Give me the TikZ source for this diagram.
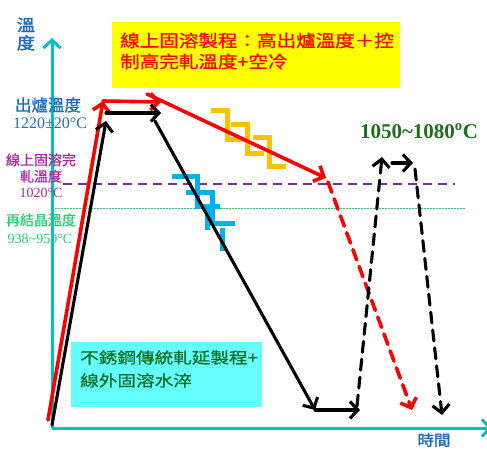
\documentclass[tikz,border=0pt]{standalone}
\usepackage{fontspec}
\setmainfont{Liberation Serif}
\newfontfamily\cjk[FakeBold=0.8]{Noto Sans CJK TC}
\newfontfamily\cjkb[FakeBold=2]{Noto Sans CJK TC}
\usetikzlibrary{arrows.meta}
\definecolor{axcyan}{RGB}{0,192,192}
\definecolor{lblue}{RGB}{35,105,190}
\definecolor{lmag}{RGB}{176,40,160}
\definecolor{lgreen}{RGB}{40,205,110}
\definecolor{dgreen}{RGB}{30,110,30}
\definecolor{lpurple}{RGB}{112,48,160}
\definecolor{zorange}{RGB}{255,192,0}
\definecolor{zblue}{RGB}{0,176,240}
\definecolor{byellow}{RGB}{255,255,0}
\definecolor{bcyan}{RGB}{102,255,255}
\definecolor{tgreen}{RGB}{20,110,40}
\begin{document}
\begin{tikzpicture}[x=1pt,y=-1pt,
  tip/.style={-{Straight Barb[length=8pt,width=17pt]}},
  redl/.style={draw=red,line width=3.6pt,line cap=round},
  blkl/.style={draw=black,line width=3.1pt,line cap=round},
  dsh/.style={dash pattern=on 11pt off 7pt},
  axl/.style={draw=axcyan,line width=3pt},
  zig/.style={line width=5pt,line join=miter},
  lbl/.style={inner sep=0pt,align=center}]
\useasboundingbox (0,0) rectangle (487,449);
% axes
\coordinate (O) at (52,428);
\coordinate (ytop) at (52,38);
\coordinate (xend) at (492,428);
\draw[axl,tip] (O) -- (ytop);
\draw[axl,tip] (O) -- (xend);
% reference lines
\coordinate (p1) at (63,184);
\coordinate (p2) at (455,184);
\coordinate (g1) at (55,209);
\coordinate (g2) at (465,209);
\draw[lpurple,line width=1.8pt,dash pattern=on 9pt off 6pt] (p1) -- (p2);
\draw[lgreen,line width=1pt,dash pattern=on 1.5pt off 1.5pt] (g1) -- (g2);
% boxes
\node[fill=byellow,minimum width=288pt,minimum height=66pt,anchor=north west,inner sep=0pt] (ybox) at (112,22) {};
\node[lbl,anchor=west,align=left,text=red,font=\cjk\fontsize{17}{21}\selectfont,xscale=1.15] (ytext) at (120,51) {線上固溶製程：高出爐溫度＋控\\制高完軋溫度+空冷};
\node[fill=bcyan,minimum width=191pt,minimum height=65pt,anchor=north west,inner sep=0pt] (cbox) at (71,342) {};
\node[lbl,anchor=west,align=left,text=tgreen,font=\cjk\fontsize{15.5}{23}\selectfont,xscale=1.2] (ctext) at (80,369) {不銹鋼傳統軋延製程+\\線外固溶水淬};
% labels
\node[lbl,text=lblue,font=\cjkb\fontsize{16.5}{18}\selectfont,xscale=1.1] (ylab) at (26,34) {溫\\度};
\node[lbl,text=lblue,font=\cjkb\fontsize{15}{17}\selectfont,xscale=1.1] (xlab) at (434,440) {時間};
\node[lbl,text=lblue,font=\cjk\fontsize{16.5}{18}\selectfont] (t1) at (48,105) {出爐溫度};
\node[lbl,text=lblue,font=\fontsize{16}{18}\selectfont] (t1n) at (50,123) {1220±20°C};
\node[lbl,text=lmag,font=\cjk\fontsize{14}{16.5}\selectfont] (t2) at (41,168) {線上固溶完\\軋溫度};
\node[lbl,text=lmag,font=\fontsize{14}{16}\selectfont] (t2n) at (41,193) {1020°C};
\node[lbl,text=lgreen,font=\cjk\fontsize{14}{16}\selectfont] (t3) at (41,220) {再結晶溫度};
\node[lbl,text=lgreen,font=\fontsize{14}{16}\selectfont] (t3n) at (40,239) {938\textasciitilde950°C};
\node[lbl,text=dgreen,font=\bfseries\fontsize{21}{24}\selectfont] (t4) at (419,131) {1050\textasciitilde1080\textsuperscript{o}C};
% zigzags
\foreach \zx/\zy in {211/111,231/124.5,253/138}
  \draw[zig,zorange] (\zx,\zy) -- ++(16,0) -- ++(0,29) -- ++(17,0);
\draw[zig,zblue] (172,177) -- (197,177) -- (197,207) -- (220,207);
\draw[zig,zblue] (186,193) -- (212,193) -- (212,223) -- (235,223);
\draw[zig,zblue] (207,207) -- (207,230);
\draw[zig,zblue] (222,228) -- (222,251);
% red path
\coordinate (r0) at (48,420);
\coordinate (r1) at (103,101);
\coordinate (r2) at (161,102);
\coordinate (r3) at (147,94);
\coordinate (r4) at (326,178);
\coordinate (r5) at (328,182);
\coordinate (r6) at (412,410);
\draw[redl,tip] (r0) -- (r1);
\draw[redl,tip] (r1) -- (r2);
\draw[redl,tip] (r3) -- (r4);
\draw[redl,dsh,tip] (r5) -- (r6);
% black path
\coordinate (b0) at (52,425);
\coordinate (b1) at (106,121);
\coordinate (b2) at (106,113);
\coordinate (b3) at (161,113);
\coordinate (b4) at (155,121);
\coordinate (b5) at (315,410);
\coordinate (b6) at (360,410);
\coordinate (b7) at (357,406);
\coordinate (b8) at (382,157);
\coordinate (b9) at (392,163);
\coordinate (b10) at (413,163);
\coordinate (b11) at (415,169);
\coordinate (b12) at (442,415);
\draw[blkl,tip] (b0) -- (b1);
\draw[blkl,tip] (b2) -- (b3);
\draw[blkl,tip] (b4) -- (b5);
\draw[blkl,tip] (b5) -- (b6);
\draw[blkl,dsh,tip] (b7) -- (b8);
\draw[blkl,tip] (b9) -- (b10);
\draw[blkl,dsh,tip] (b11) -- (b12);
\end{tikzpicture}
\end{document}
